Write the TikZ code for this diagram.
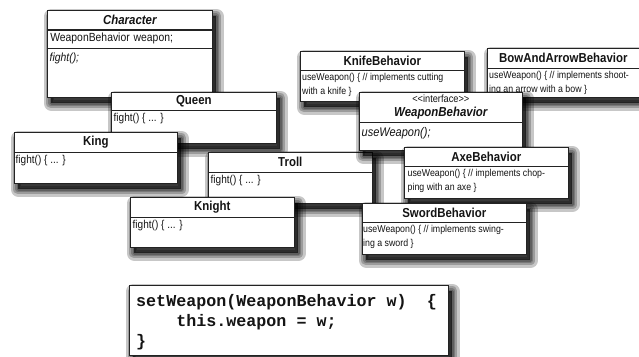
\documentclass[tikz,border=0pt]{standalone}
\usepackage{fontspec}
\setmainfont[FakeStretch=0.88]{Liberation Sans}
\newfontfamily\codefont{Liberation Mono}
\usepackage{xcolor}
\usepackage{tikz}
\usetikzlibrary{positioning}
\definecolor{umlline}{RGB}{35,35,35}
\definecolor{umltext}{RGB}{20,20,20}

\begin{document}
\begin{tikzpicture}[
    x=1pt, y=1pt,
    shadowlayer/.style={preaction={fill=black, draw=black, opacity=0.22, line width=#1, line join=round,
        transform canvas={shift={(4pt,-6pt)}}}},
    softshadow/.style={shadowlayer=15pt, shadowlayer=10pt, shadowlayer=6pt, shadowlayer=2.5pt},
    classbox/.style={draw=umlline, fill=white, line width=0.8pt, anchor=north west, inner sep=0pt, softshadow},
    classtitle/.style={draw=umlline, line width=0.6pt, anchor=north west, inner sep=0pt, text=umltext,
        font=\bfseries\fontsize{13}{15}\selectfont},
    classrow/.style={draw=umlline, line width=0.6pt, anchor=north west, inner xsep=3pt, inner ysep=0pt,
        align=left, text=umltext, font=\fontsize{11.8}{14}\selectfont},
    classbody/.style={anchor=north west, inner sep=2.5pt, align=left, text=umltext,
        font=\fontsize{11.4}{14}\selectfont},
    behaviorbody/.style={classbody, inner sep=2pt, font=\fontsize{10}{14}\selectfont},
    codebox/.style={classbox, line width=0.9pt}
]
    \useasboundingbox (0,0) rectangle (639,-356);

    % Character
    \node[classbox, minimum width=165pt, minimum height=87pt] (character) at (47,-10) {};
    \node[classtitle, minimum width=165pt, minimum height=19pt, font=\bfseries\itshape\fontsize{13}{15}\selectfont] (charactertitle) at (character.north west) {Character};
    \node[classrow, text width=159pt, minimum height=18pt] (characterfield) at (charactertitle.south west) {WeaponBehavior weapon;};
    \node[classbody, inner ysep=5pt, font=\itshape\fontsize{11.8}{14}\selectfont] (characterfight) at (characterfield.south west) {fight();};

    % Queen
    \node[classbox, minimum width=165pt, minimum height=51pt] (queen) at (111,-92) {};
    \node[classtitle, minimum width=165pt, minimum height=18pt] (queentitle) at (queen.north west) {Queen};
    \node[classbody] (queenfight) at (queentitle.south west) {fight() \{ ... \}};

    % King
    \node[classbox, minimum width=163pt, minimum height=51pt] (king) at (14,-132) {};
    \node[classtitle, minimum width=163pt, minimum height=20pt] (kingtitle) at (king.north west) {King};
    \node[classbody, inner xsep=1.5pt] (kingfight) at (kingtitle.south west) {fight() \{ ... \}};

    % Troll
    \node[classbox, minimum width=164pt, minimum height=51pt] (troll) at (208,-152) {};
    \node[classtitle, minimum width=164pt, minimum height=20pt] (trolltitle) at (troll.north west) {Troll};
    \node[classbody] (trollfight) at (trolltitle.south west) {fight() \{ ... \}};

    % Knight
    \node[classbox, minimum width=164pt, minimum height=50pt] (knight) at (130,-197) {};
    \node[classtitle, minimum width=164pt, minimum height=20pt] (knighttitle) at (knight.north west) {Knight};
    \node[classbody] (knightfight) at (knighttitle.south west) {fight() \{ ... \}};

    % KnifeBehavior
    \node[classbox, minimum width=164pt, minimum height=50pt] (knife) at (300,-51) {};
    \node[classtitle, minimum width=164pt, minimum height=19pt] (knifetitle) at (knife.north west) {KnifeBehavior};
    \node[behaviorbody] (knifeuse) at (knifetitle.south west) {useWeapon() \{ // implements cutting\\with a knife \}};

    % BowAndArrowBehavior
    \node[classbox, minimum width=152pt, minimum height=49pt] (bow) at (487,-48) {};
    \node[classtitle, minimum width=152pt, minimum height=20pt] (bowtitle) at (bow.north west) {BowAndArrowBehavior};
    \node[behaviorbody] (bowuse) at (bowtitle.south west) {useWeapon() \{ // implements shoot-\\ing an arrow with a bow \}};

    % WeaponBehavior interface
    \node[classbox, minimum width=163pt, minimum height=58pt] (weapon) at (359,-92) {};
    \node[classtitle, minimum width=163pt, minimum height=30pt, align=center, font=\fontsize{10.5}{14}\selectfont] (weapontitle) at (weapon.north west) {<{}<interface>{}>\\{\bfseries\itshape\fontsize{13}{15}\selectfont WeaponBehavior}};
    \node[classbody, inner ysep=5pt, font=\itshape\fontsize{12.5}{14}\selectfont] (weaponuse) at (weapontitle.south west) {useWeapon();};

    % AxeBehavior
    \node[classbox, minimum width=164pt, minimum height=51pt] (axe) at (404,-147) {};
    \node[classtitle, minimum width=164pt, minimum height=19pt] (axetitle) at (axe.north west) {AxeBehavior};
    \node[behaviorbody, inner xsep=3.5pt] (axeuse) at (axetitle.south west) {useWeapon() \{ // implements chop-\\ping with an axe \}};

    % SwordBehavior
    \node[classbox, minimum width=164pt, minimum height=51pt] (sword) at (362,-203) {};
    \node[classtitle, minimum width=164pt, minimum height=19pt] (swordtitle) at (sword.north west) {SwordBehavior};
    \node[behaviorbody, inner xsep=1pt] (sworduse) at (swordtitle.south west) {useWeapon() \{ // implements swing-\\ing a sword \}};

    % setWeapon code
    \node[codebox, minimum width=319pt, minimum height=70pt] (setter) at (129,-285) {};
    \node[anchor=north west, inner sep=0pt, align=left, text=umltext,
        font=\codefont\bfseries\fontsize{16.7}{20}\selectfont] (settercode) at ([xshift=7pt, yshift=-9pt]setter.north west)
        {setWeapon(WeaponBehavior w)\ \ \{\\\phantom{xxxx}this.weapon = w;\\\}};
\end{tikzpicture}
\end{document}
